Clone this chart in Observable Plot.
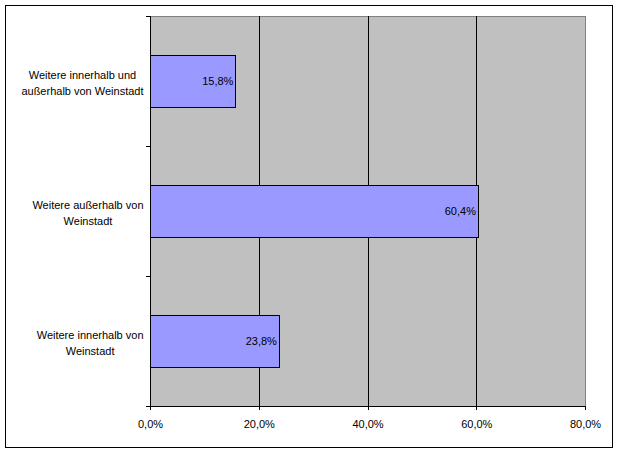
<!DOCTYPE html>
<html>
<head>
<meta charset="utf-8">
<script src="https://cdn.jsdelivr.net/npm/d3@7"></script>
<script src="https://cdn.jsdelivr.net/npm/@observablehq/plot@0.6"></script>
<style>
  html, body { margin: 0; padding: 0; background: #fff; }
  #wrap { position: relative; width: 619px; height: 453px; overflow: hidden; }
  #wrap svg { display: block; }
  #wrap svg rect, #wrap svg line, #wrap svg path { shape-rendering: crispEdges; }
  #border { position: absolute; left: 5px; top: 5px; width: 606px; height: 441px; border: 1px solid #000; pointer-events: none; }
</style>
</head>
<body>
<div id="wrap"><div id="border"></div></div>
<script>
const categories = [
  "Weitere innerhalb und außerhalb von Weinstadt",
  "Weitere außerhalb von Weinstadt",
  "Weitere innerhalb von Weinstadt"
];
const categoryLabels = [
  "Weitere innerhalb und\naußerhalb von Weinstadt",
  "Weitere außerhalb von\nWeinstadt",
  "Weitere innerhalb von\nWeinstadt"
];
const values = [15.8, 60.4, 23.8];
const xTicks = [0, 20, 40, 60, 80];
const gridLines = [20, 40, 60];

const FONT = "Arial, 'Liberation Sans', sans-serif";
const data = categories.map((c, i) => ({cat: c, label: categoryLabels[i], value: values[i]}));
const fmt = v => v.toFixed(1).replace(".", ",") + "%";

// measure the widest line of each wrapped label so the block sits right-aligned, lines centred
const ctx = document.createElement("canvas").getContext("2d");
ctx.font = "11px " + FONT;
const maxLineWidth = s => d3.max(s.split("\n"), l => ctx.measureText(l).width);

// tick marks between categories (Excel style)
function bandBoundaryTicks(index, scales, vals, dimensions) {
  const y = scales.y;
  const g = d3.create("svg:g").attr("stroke", "#000");
  const bw = typeof y.bandwidth === "function" ? y.bandwidth() : (scales.scales && scales.scales.y.bandwidth);
  const step = typeof y.step === "function" ? y.step() : (scales.scales && scales.scales.y.step);
  const pad = (step - bw) / 2;
  const pos = categories.map(c => y(c) - pad);
  pos.push(y(categories[categories.length - 1]) + bw + pad);
  const x0 = dimensions.marginLeft;
  for (const p of pos) {
    g.append("line").attr("x1", x0 - 4).attr("x2", x0).attr("y1", Math.round(p) + 0.5).attr("y2", Math.round(p) + 0.5);
  }
  return g.node();
}

const labelMarks = data.map(d =>
  Plot.text([d], {x: 0, y: "cat", text: "label", textAnchor: "middle", dx: -7 - maxLineWidth(d.label) / 2, lineHeight: 1.5, fill: "#000"})
);

const chart = Plot.plot({
  width: 619,
  height: 453,
  marginLeft: 150,
  marginRight: 34,
  marginTop: 16,
  marginBottom: 47,
  style: {fontFamily: FONT, fontSize: "11px", color: "#000", background: "transparent"},
  x: {domain: [0, 80], axis: null, label: null},
  y: {type: "band", domain: categories, paddingInner: 0.6, paddingOuter: 0.3, axis: null, label: null},
  marks: [
    Plot.frame({fill: "#C0C0C0", stroke: "#808080"}),
    Plot.ruleX(gridLines, {stroke: "#000", strokeWidth: 1}),
    Plot.barX(data, {x: "value", y: "cat", fill: "#9999FF", stroke: "#000", strokeWidth: 1}),
    Plot.text(data, {x: "value", y: "cat", text: d => fmt(d.value), textAnchor: "end", dx: -3, fill: "#000"}),
    ...labelMarks,
    Plot.ruleX([0], {stroke: "#000"}),
    Plot.frame({anchor: "bottom", stroke: "#000"}),
    Plot.axisX({ticks: xTicks, tickFormat: fmt, tickSize: 4, tickPadding: 10, stroke: "#000", fill: "#000", fontSize: 11, label: null}),
    bandBoundaryTicks
  ]
});
document.getElementById("wrap").insertBefore(chart, document.getElementById("border"));
</script>
</body>
</html>
